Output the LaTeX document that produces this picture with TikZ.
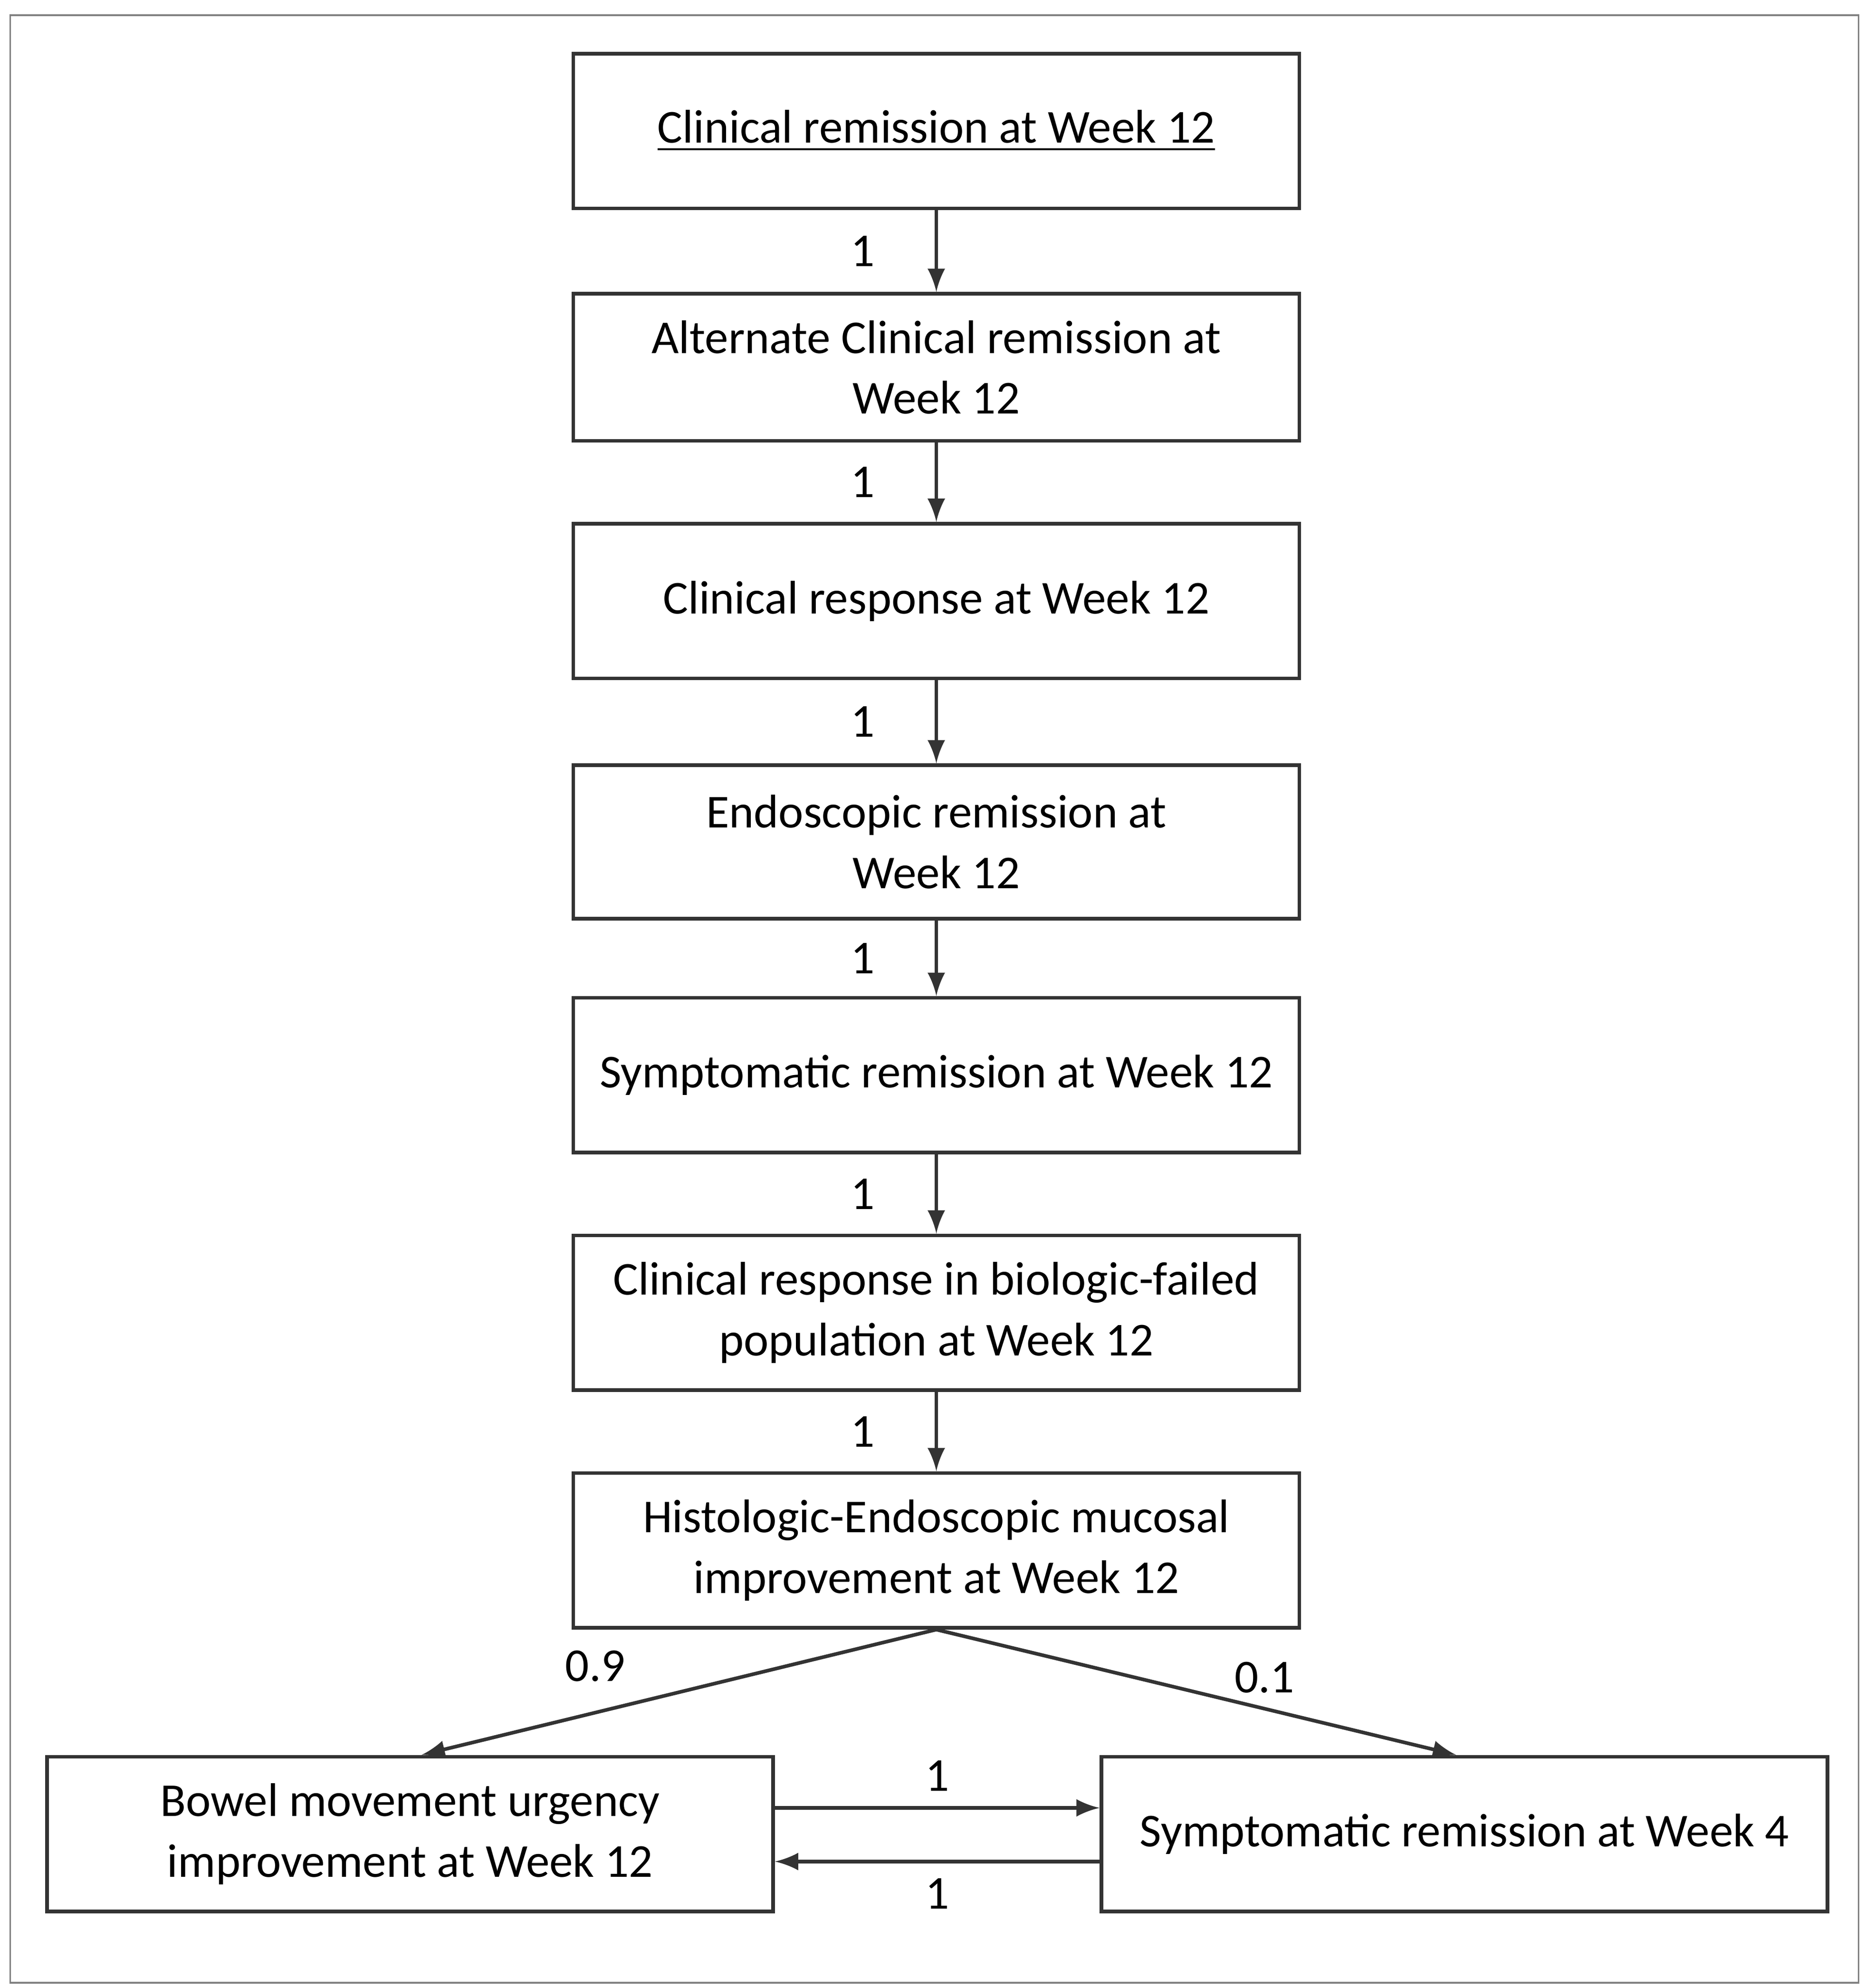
\documentclass[tikz,border=0pt]{standalone}
\usepackage{fontspec}
\setmainfont{Carlito}
\usetikzlibrary{positioning}
\tikzset{
  outcome/.style={draw=black!80, thick, minimum width=5.68cm, minimum height=1.2cm,
    inner sep=2pt, align=center, font=\fontsize{10.5}{13.5}\selectfont},
  flow/.style={draw=black!80, thick, -latex},
  num/.style={font=\fontsize{10.5}{13}\selectfont}
}
\begin{document}
\begin{tikzpicture}[x=0.01cm, y=-0.01cm]
  \useasboundingbox (0,0) rectangle (1460,1556);
  % Frame
  \draw [black!50] (8,12) rectangle (1455,1552);

  % Column of outcomes
  \node [outcome, minimum height=1.21cm] (crw) at (733,102.5) {\underline{Clinical remission at Week 12}};
  \node [outcome, minimum height=1.15cm] (acr) at (733,287.5) {Alternate Clinical remission at\\Week 12};
  \node [outcome, minimum height=1.21cm] (rsp) at (733,470.5) {Clinical response at Week 12};
  \node [outcome, minimum height=1.2cm] (end) at (733,659) {Endoscopic remission at\\Week 12};
  \node [outcome, minimum height=1.21cm] (sym) at (733,841.5) {Symptomatic remission at Week 12};
  \node [outcome, minimum height=1.21cm] (bio) at (733,1027.5) {Clinical response in biologic-failed\\population at Week 12};
  \node [outcome, minimum height=1.21cm] (his) at (733,1213.5) {Histologic-Endoscopic mucosal\\improvement at Week 12};

  % Bottom row
  \node [outcome, minimum height=1.21cm] (bmu) at (321,1435.5) {Bowel movement urgency\\improvement at Week 12};
  \node [outcome, minimum height=1.21cm] (sw4) at (1146.5,1435.5) {Symptomatic remission at Week 4};

  % Edges
  \draw [flow] (crw) -- (acr) node [num, midway, left=0.35cm] {1};
  \draw [flow] (acr) -- (rsp) node [num, midway, left=0.35cm] {1};
  \draw [flow] (rsp) -- (end) node [num, midway, left=0.35cm] {1};
  \draw [flow] (end) -- (sym) node [num, midway, left=0.35cm] {1};
  \draw [flow] (sym) -- (bio) node [num, midway, left=0.35cm] {1};
  \draw [flow] (bio) -- (his) node [num, midway, left=0.35cm] {1};

  \coordinate (bl) at (bmu.north -| 330,0);
  \coordinate (br) at (sw4.north -| 1140,0);
  \draw [flow] (his.south) -- (bl);
  \draw [flow] (his.south) -- (br);
  \node [num] (p9) at (466,1304) {0.9};
  \node [num] (p1) at (990,1313) {0.1};

  \draw [flow] (bmu.east |- 0,1415) -- (sw4.west |- 0,1415) node [num, midway, above] {1};
  \draw [flow] (sw4.west |- 0,1457) -- (bmu.east |- 0,1457) node [num, midway, below] {1};
\end{tikzpicture}
\end{document}
